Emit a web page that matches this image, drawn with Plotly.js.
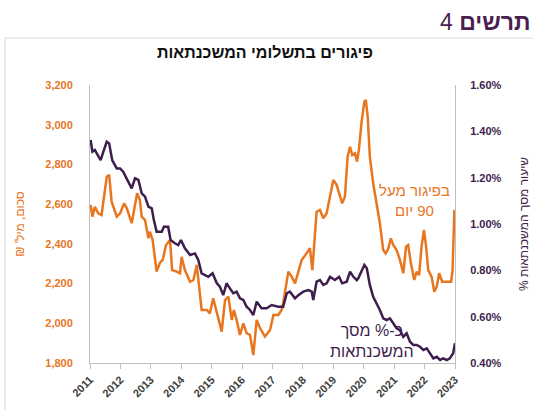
<!DOCTYPE html>
<html><head><meta charset="utf-8">
<script src="https://cdn.plot.ly/plotly-3.0.1.min.js"></script>
<style>html,body{margin:0;padding:0;background:#fff;}#chart{width:533px;height:410px;}</style>
</head><body><div id="chart"></div>
<script>
// Arrears amount (NIS millions), over 90 days
const arrearsYears = [2011.02,2011.08,2011.16,2011.27,2011.38,2011.49,2011.55,2011.63,2011.71,2011.88,2011.99,2012.12,2012.21,2012.37,2012.48,2012.55,2012.64,2012.70,2012.81,2012.92,2012.97,2013.06,2013.19,2013.30,2013.39,2013.50,2013.63,2013.70,2013.85,2013.96,2014.01,2014.12,2014.29,2014.40,2014.51,2014.62,2014.67,2014.84,2014.94,2015.05,2015.17,2015.33,2015.44,2015.55,2015.66,2015.73,2015.82,2015.93,2016.04,2016.15,2016.26,2016.37,2016.48,2016.59,2016.75,2016.92,2017.03,2017.19,2017.30,2017.35,2017.52,2017.63,2017.74,2017.85,2017.96,2018.12,2018.23,2018.31,2018.37,2018.45,2018.56,2018.67,2018.78,2018.89,2019.00,2019.11,2019.22,2019.29,2019.38,2019.47,2019.55,2019.62,2019.71,2019.78,2019.84,2019.93,2020.02,2020.07,2020.13,2020.20,2020.31,2020.42,2020.53,2020.64,2020.72,2020.81,2020.89,2020.97,2021.08,2021.19,2021.30,2021.39,2021.46,2021.55,2021.66,2021.74,2021.82,2021.90,2021.98,2022.05,2022.12,2022.23,2022.32,2022.40,2022.48,2022.58,2022.73,2022.87,2022.92,2022.98];
const arrearsValues = [2596,2537,2587,2554,2545,2671,2738,2747,2612,2537,2554,2604,2579,2504,2604,2655,2621,2537,2520,2428,2461,2419,2260,2305,2319,2394,2419,2268,2260,2252,2335,2268,2209,2218,2294,2151,2067,2067,2050,2126,2050,1958,2117,2134,2017,2067,2017,1941,2000,1950,1941,1840,2017,1975,1933,1966,2042,2042,2067,2101,2260,2235,2201,2260,2319,2352,2378,2268,2419,2562,2571,2529,2554,2638,2722,2696,2638,2604,2638,2839,2889,2847,2856,2814,2873,3015,3116,3124,3040,2839,2705,2604,2504,2369,2352,2378,2428,2394,2369,2319,2252,2386,2394,2302,2218,2260,2243,2386,2470,2386,2268,2235,2159,2185,2252,2209,2209,2209,2268,2571];
// Share of total mortgages (%)
const shareYears = [2011.02,2011.08,2011.16,2011.27,2011.35,2011.44,2011.55,2011.63,2011.73,2011.88,2011.99,2012.09,2012.21,2012.37,2012.48,2012.59,2012.70,2012.81,2012.92,2013.03,2013.10,2013.19,2013.36,2013.43,2013.57,2013.65,2013.79,2013.90,2013.99,2014.12,2014.29,2014.45,2014.56,2014.67,2014.89,2015.03,2015.17,2015.27,2015.38,2015.49,2015.60,2015.71,2015.82,2015.93,2016.04,2016.15,2016.26,2016.37,2016.48,2016.64,2016.81,2016.97,2017.19,2017.35,2017.47,2017.57,2017.74,2017.85,2018.01,2018.18,2018.29,2018.34,2018.45,2018.56,2018.67,2018.78,2018.89,2019.05,2019.19,2019.29,2019.44,2019.55,2019.66,2019.77,2019.82,2019.93,2020.02,2020.10,2020.20,2020.31,2020.42,2020.53,2020.64,2020.75,2020.86,2020.97,2021.08,2021.19,2021.30,2021.41,2021.52,2021.63,2021.74,2021.85,2021.96,2022.07,2022.18,2022.29,2022.40,2022.51,2022.61,2022.73,2022.83,2022.94,2023.00];
const shareValues = [1.363,1.312,1.319,1.290,1.276,1.312,1.355,1.348,1.276,1.240,1.240,1.226,1.197,1.154,1.197,1.190,1.132,1.118,1.075,1.068,1.017,0.967,0.967,0.988,0.988,0.931,0.917,0.909,0.931,0.895,0.866,0.873,0.845,0.787,0.772,0.787,0.744,0.729,0.693,0.744,0.722,0.701,0.708,0.679,0.672,0.643,0.629,0.607,0.665,0.636,0.636,0.650,0.643,0.643,0.701,0.708,0.679,0.693,0.708,0.715,0.708,0.672,0.751,0.758,0.737,0.744,0.772,0.758,0.772,0.744,0.751,0.794,0.772,0.758,0.766,0.801,0.823,0.809,0.737,0.686,0.658,0.629,0.593,0.585,0.593,0.571,0.550,0.542,0.513,0.528,0.492,0.478,0.478,0.470,0.456,0.463,0.442,0.420,0.427,0.413,0.420,0.413,0.420,0.442,0.485];
const xTickVals = [2011,2012,2013,2014,2015,2016,2017,2018,2019,2020,2021,2022,2023];

const ORANGE = '#E8761F';
const PURPLE = '#3E1E4C';
const FONT = 'Liberation Sans, Arial, sans-serif';

const traces = [
  {x: arrearsYears, y: arrearsValues, type: 'scatter', mode: 'lines', line: {color: ORANGE, width: 2.5}, yaxis: 'y', hoverinfo: 'skip'},
  {x: shareYears, y: shareValues, type: 'scatter', mode: 'lines', line: {color: PURPLE, width: 2.5}, yaxis: 'y2', hoverinfo: 'skip'}
];

const layout = {
  width: 533, height: 410,
  margin: {l: 90, r: 78, t: 85, b: 47},
  paper_bgcolor: '#ffffff', plot_bgcolor: '#ffffff',
  showlegend: false,
  font: {family: FONT},
  title: {text: '<b>פיגורים בתשלומי המשכנתאות</b>', x: 0.497, xref: 'container', xanchor: 'center', y: 0.873, yref: 'container', yanchor: 'middle', font: {size: 16, color: '#111111', family: FONT}},
  xaxis: {
    range: [2011, 2023], tickvals: xTickVals, ticktext: xTickVals.map(String),
    tickangle: -45, ticks: 'outside', ticklen: 5, tickcolor: '#bfbfbf',
    showline: true, linecolor: '#bfbfbf', linewidth: 1, showgrid: false, zeroline: false,
    tickfont: {size: 11, color: '#404040', family: FONT, weight: 'bold'}
  },
  yaxis: {
    range: [1800, 3200], dtick: 200, tick0: 1800, tickformat: ',d',
    showline: true, linecolor: '#bfbfbf', linewidth: 1, showgrid: false, zeroline: false,
    ticks: 'outside', ticklen: 14, tickcolor: 'rgba(0,0,0,0)',
    tickfont: {size: 11, color: ORANGE, family: FONT, weight: 'bold'},
    title: {text: "₪ סכום, מיל'\u200F", font: {size: 12, color: ORANGE, family: FONT}, standoff: 18}
  },
  yaxis2: {
    range: [0.4, 1.6], dtick: 0.2, tick0: 0.4, tickformat: '.2f', ticksuffix: '%',
    overlaying: 'y', side: 'right',
    showline: true, linecolor: '#bfbfbf', linewidth: 1, showgrid: false, zeroline: false,
    ticks: 'outside', ticklen: 12, tickcolor: 'rgba(0,0,0,0)',
    tickfont: {size: 11, color: PURPLE, family: FONT, weight: 'bold'},
    title: {text: '% שיעור מסך המשכנתאות', font: {size: 12, color: PURPLE, family: FONT}, standoff: 18}
  },
  shapes: [
    {type: 'rect', xref: 'paper', yref: 'paper', x0: -0.233, x1: 1.4, y0: -0.4, y1: 1.169, line: {color: '#d9d9d9', width: 1}, fillcolor: 'rgba(0,0,0,0)', layer: 'below'}
  ],
  annotations: [
    {text: '<b>תרשים</b> 4', xref: 'paper', yref: 'paper', x: 1.214, y: 1.227, xanchor: 'right', yanchor: 'middle', showarrow: false, font: {size: 23, color: '#4A1F50', family: FONT}},
    {text: 'בפיגור מעל<br>יום\u200E 90', xref: 'paper', yref: 'paper', x: 0.89, y: 0.585, xanchor: 'center', yanchor: 'middle', showarrow: false, font: {size: 15, color: ORANGE, family: FONT}},
    {text: 'כ-% מסך<br>המשכנתאות', xref: 'paper', yref: 'paper', x: 0.773, y: 0.08, xanchor: 'center', yanchor: 'middle', showarrow: false, font: {size: 16, color: PURPLE, family: FONT}}
  ]
};

Plotly.newPlot('chart', traces, layout, {staticPlot: true, displayModeBar: false});
</script>
</body></html>
